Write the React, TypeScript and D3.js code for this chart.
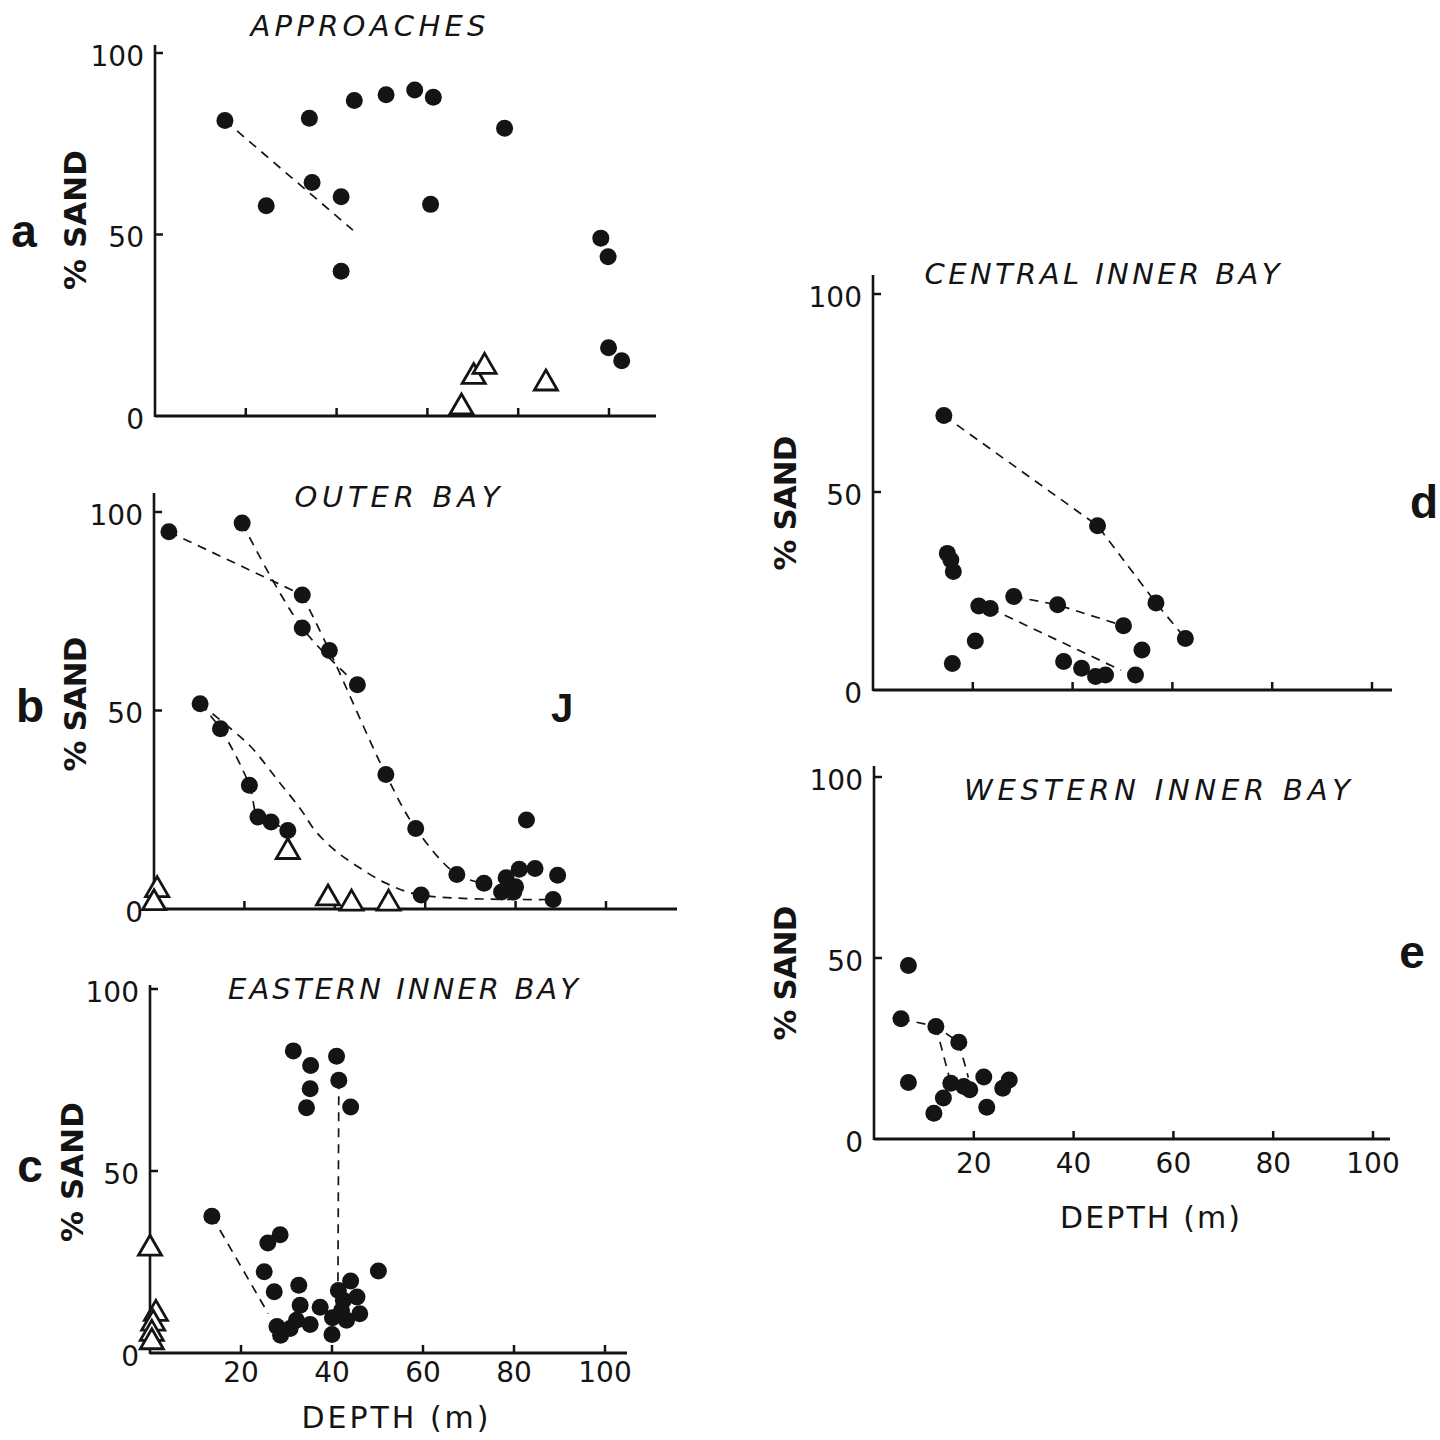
import React from "react";
import * as d3 from "d3";

type Pt = [number, number]; // [depth (m), % sand]

const depthTicks = [20, 40, 60, 80, 100];
const sandTicks = [0, 50, 100];

// a - approaches
const approachesDots: Pt[] = [
  [15.4, 81.4], [24.5, 57.9], [34, 82], [34.6, 64.3], [41, 60.4], [41, 39.9],
  [43.9, 86.9], [50.9, 88.5], [57.2, 89.8], [61.3, 87.8], [60.7, 58.3], [77, 79.3],
  [98.2, 49], [99.8, 43.9], [99.9, 18.8], [102.8, 15.2],
];
const approachesTriangles: Pt[] = [[67.5, 2.4], [70.2, 10.8], [72.6, 13.6], [86.1, 9]];
const approachesTrends: Pt[][] = [[[15.4, 81.4], [43.6, 51.2]]];

// b - outer bay
const outerDots: Pt[] = [
  [3.3, 95], [19.5, 97.2], [32.8, 79.1], [32.8, 70.8], [38.8, 65.1], [45, 56.5],
  [10.2, 51.7], [14.7, 45.4], [21.1, 31.2], [23, 23.2], [25.9, 21.9], [29.6, 19.8],
  [51.3, 33.9], [57.9, 20.3], [67, 8.7], [73, 6.5], [59.1, 3.5], [82.4, 22.4],
  [84.3, 10.2], [80.8, 10], [77.9, 7.9], [80, 5.6], [76.9, 4.3], [79.6, 4.3],
  [89.3, 8.5], [88.3, 2.4],
];
const outerTriangles: Pt[] = [[0.7, 4.8], [0, 1.5], [29.6, 14.4], [38.5, 2.7], [43.7, 1.4], [51.9, 1.4]];
const outerTrends: Pt[][] = [
  [[3.3, 95], [32.8, 79.1]],
  [[19.5, 97.2], [32.8, 70.8], [45, 56.5]],
  [[32.8, 79.1], [38.8, 65.1], [51.3, 33.9], [57.9, 20.3], [67, 8.7], [73, 6.5]],
  [[10.2, 51.7], [14.7, 45.4], [21.1, 31.2], [23, 23.2], [25.9, 21.9], [29.6, 19.8]],
  [[10.2, 51.7], [17, 45.4], [21.5, 40.8], [27.4, 32.4], [32.6, 24.9], [35.6, 19.8],
   [40, 14.8], [45.2, 10.6], [51.5, 6.4], [59.1, 3.5], [88.3, 2.4]],
];

// c - eastern inner bay
const easternDots: Pt[] = [
  [13.6, 37.6], [31.5, 83], [35.3, 79], [35.2, 72.6], [34.4, 67.4], [41, 81.5],
  [41.5, 74.9], [44.1, 67.6], [28.6, 32.5], [25.9, 30.2], [25.1, 22.3], [27.3, 16.8],
  [32.7, 18.6], [33, 13.1], [37.4, 12.6], [50.2, 22.5], [27.9, 7.3], [28.7, 4.9],
  [30.8, 6.7], [32.2, 9], [35.2, 7.8], [40.1, 9.7], [40, 5.1], [41.4, 17.2],
  [44.1, 19.8], [42.5, 14.5], [45.5, 15.4], [46.1, 10.8], [43.2, 9], [42.1, 11.7],
];
const easternTriangles: Pt[] = [[0, 28.7], [1.3, 10.8], [0.7, 8.1], [0.4, 5.3], [0.4, 3]];
const easternTrends: Pt[][] = [
  [[13.6, 37.6], [26, 10.8]],
  [[41.5, 74.9], [41.3, 17.2]],
];

// d - central inner bay
const centralDots: Pt[] = [
  [14.2, 69.3], [45, 41.5], [56.7, 22], [62.6, 13], [14.9, 34.5], [15.6, 32.8],
  [16.1, 29.9], [15.9, 6.7], [21.2, 21.2], [23.5, 20.6], [20.5, 12.4], [28.2, 23.6],
  [37, 21.5], [50.2, 16.2], [53.9, 10.1], [38.2, 7.2], [41.8, 5.5], [44.6, 3.4],
  [46.6, 3.8], [52.6, 3.8],
];
const centralTrends: Pt[][] = [
  [[14.2, 69.3], [45, 41.5], [56.7, 22], [62.6, 13]],
  [[28.2, 23.6], [37, 21.5], [50.2, 16.2]],
  [[23.5, 20.6], [49.7, 5]],
];

// e - western inner bay
const westernDots: Pt[] = [
  [6.9, 47.9], [5.4, 33.2], [12.4, 31.1], [17, 26.7], [6.9, 15.6], [15.4, 15.4],
  [18, 14.5], [19.2, 13.6], [22, 17.1], [27.1, 16.3], [25.8, 14], [13.9, 11.3],
  [12, 7.1], [22.6, 8.8],
];
const westernTrends: Pt[][] = [
  [[5.4, 33.2], [12.4, 31.1], [17, 26.7]],
  [[12.4, 31.1], [15.4, 15.4]],
  [[17, 26.7], [18.9, 17]],
];

const panels = [
  {
    letter: "a", title: "APPROACHES", dots: approachesDots, tris: approachesTriangles, trends: approachesTrends,
    x0: 155, x100: 609, y0: 416, y100: 53, axisEnd: 656, axisTop: 45, smooth: false,
    titleX: 368, titleY: 36, titleW: 235, labX: 75, labY: 220, labW: 140,
    letX: 24, letY: 247, depthLabels: false,
  },
  {
    letter: "b", title: "OUTER BAY", dots: outerDots, tris: outerTriangles, trends: outerTrends,
    x0: 154, x100: 606, y0: 909, y100: 512, axisEnd: 677, axisTop: 493, smooth: true,
    titleX: 397, titleY: 507, titleW: 205, labX: 75, labY: 704, labW: 135,
    letX: 30, letY: 722, depthLabels: false,
  },
  {
    letter: "c", title: "EASTERN INNER BAY", dots: easternDots, tris: easternTriangles, trends: easternTrends,
    x0: 150, x100: 605, y0: 1353, y100: 989, axisEnd: 627, axisTop: 985, smooth: false,
    titleX: 403, titleY: 999, titleW: 350, labX: 72, labY: 1172, labW: 140,
    letX: 30, letY: 1182, depthLabels: true, depthY: 1372, depthTitleX: 395, depthTitleY: 1428, depthTitleW: 187,
  },
  {
    letter: "d", title: "CENTRAL INNER BAY", dots: centralDots, tris: [] as Pt[], trends: centralTrends,
    x0: 873, x100: 1372, y0: 690, y100: 294, axisEnd: 1392, axisTop: 275, smooth: false,
    titleX: 1102, titleY: 284, titleW: 355, labX: 785, labY: 503, labW: 135,
    letX: 1424, letY: 518, depthLabels: false,
  },
  {
    letter: "e", title: "WESTERN INNER BAY", dots: westernDots, tris: [] as Pt[], trends: westernTrends,
    x0: 874, x100: 1373, y0: 1139, y100: 777, axisEnd: 1390, axisTop: 766, smooth: false,
    titleX: 1157, titleY: 800, titleW: 386, labX: 785, labY: 973, labW: 135,
    letX: 1412, letY: 968, depthLabels: true, depthY: 1163, depthTitleX: 1150, depthTitleY: 1228, depthTitleW: 180,
  },
];

const ink = "#141414";
const numFont = "'DejaVu Sans', sans-serif";

function Panel({ p }: { p: any }) {
  const x = d3.scaleLinear().domain([0, 100]).range([p.x0, p.x100]);
  const y = d3.scaleLinear().domain([0, 100]).range([p.y0, p.y100]);
  const line = d3.line<Pt>().x((d) => x(d[0])).y((d) => y(d[1]))
    .curve(p.smooth ? d3.curveCatmullRom.alpha(0.5) : d3.curveLinear);
  const tri = d3.symbol().type(d3.symbolTriangle).size(230)();

  return (
    <g>
      {/* axes */}
      <line x1={p.x0} x2={p.axisEnd} y1={p.y0} y2={p.y0} stroke={ink} strokeWidth={3} />
      <line x1={p.x0} x2={p.x0} y1={p.y0 + 1} y2={p.axisTop} stroke={ink} strokeWidth={2.6} />
      {depthTicks.map((t) => (
        <line key={t} x1={x(t)} x2={x(t)} y1={p.y0} y2={p.y0 - 8} stroke={ink} strokeWidth={2.5} />
      ))}
      {sandTicks.filter((t) => t > 0).map((t) => (
        <line key={t} x1={p.x0} x2={p.x0 + 8} y1={y(t)} y2={y(t)} stroke={ink} strokeWidth={2.5} />
      ))}
      {sandTicks.map((t) => (
        <text key={t} x={p.x0 - 11} y={y(t) + 3} textAnchor="end" dominantBaseline="central"
          fontFamily={numFont} fontSize={28} fill={ink}>{t}</text>
      ))}
      {p.depthLabels && depthTicks.map((t) => (
        <text key={t} x={x(t)} y={p.depthY} textAnchor="middle" dominantBaseline="central"
          fontFamily={numFont} fontSize={28} fill={ink}>{t}</text>
      ))}
      {p.depthLabels && (
        <text x={p.depthTitleX} y={p.depthTitleY} textAnchor="middle" fontFamily={numFont} fontSize={30}
          fill={ink} textLength={p.depthTitleW} lengthAdjust="spacing">DEPTH (m)</text>
      )}

      {/* trend lines */}
      {p.trends.map((l: Pt[], i: number) => (
        <path key={i} d={line(l) || ""} fill="none" stroke={ink} strokeWidth={1.7} strokeDasharray="9 7" />
      ))}

      {/* samples */}
      {p.tris.map((d: Pt, i: number) => (
        <path key={"t" + i} d={tri || ""} transform={`translate(${x(d[0])},${y(d[1])})`}
          fill="white" stroke={ink} strokeWidth={2.8} strokeLinejoin="miter" />
      ))}
      {p.dots.map((d: Pt, i: number) => (
        <circle key={"c" + i} cx={x(d[0])} cy={y(d[1])} r={8.5} fill={ink} />
      ))}

      {/* titles */}
      <text x={p.titleX} y={p.titleY} textAnchor="middle" fontFamily={numFont} fontStyle="italic"
        fontSize={29} fill={ink} textLength={p.titleW} lengthAdjust="spacing">{p.title}</text>
      <text transform={`translate(${p.labX},${p.labY}) rotate(-90)`} textAnchor="middle" dominantBaseline="central"
        fontFamily={numFont} fontWeight="bold" fontSize={31} fill={ink} textLength={p.labW}
        lengthAdjust="spacing">% SAND</text>
      <text x={p.letX} y={p.letY} textAnchor="middle" fontFamily="'Liberation Sans', Arial, sans-serif"
        fontWeight="bold" fontSize={46} fill={ink}>{p.letter}</text>
    </g>
  );
}

export default function App() {
  return (
    <svg width={1440} height={1440} viewBox="0 0 1440 1440"
      style={{ position: "absolute", left: 0, top: 0, background: "white" }}>
      <rect width={1440} height={1440} fill="white" />
      {panels.map((p) => <Panel key={p.letter} p={p} />)}
      {/* stray mark on the original plate */}
      <text x={562} y={722} textAnchor="middle" fontFamily="'Liberation Sans', sans-serif" fontWeight="bold"
        fontSize={40} fill={ink}>J</text>
    </svg>
  );
}
